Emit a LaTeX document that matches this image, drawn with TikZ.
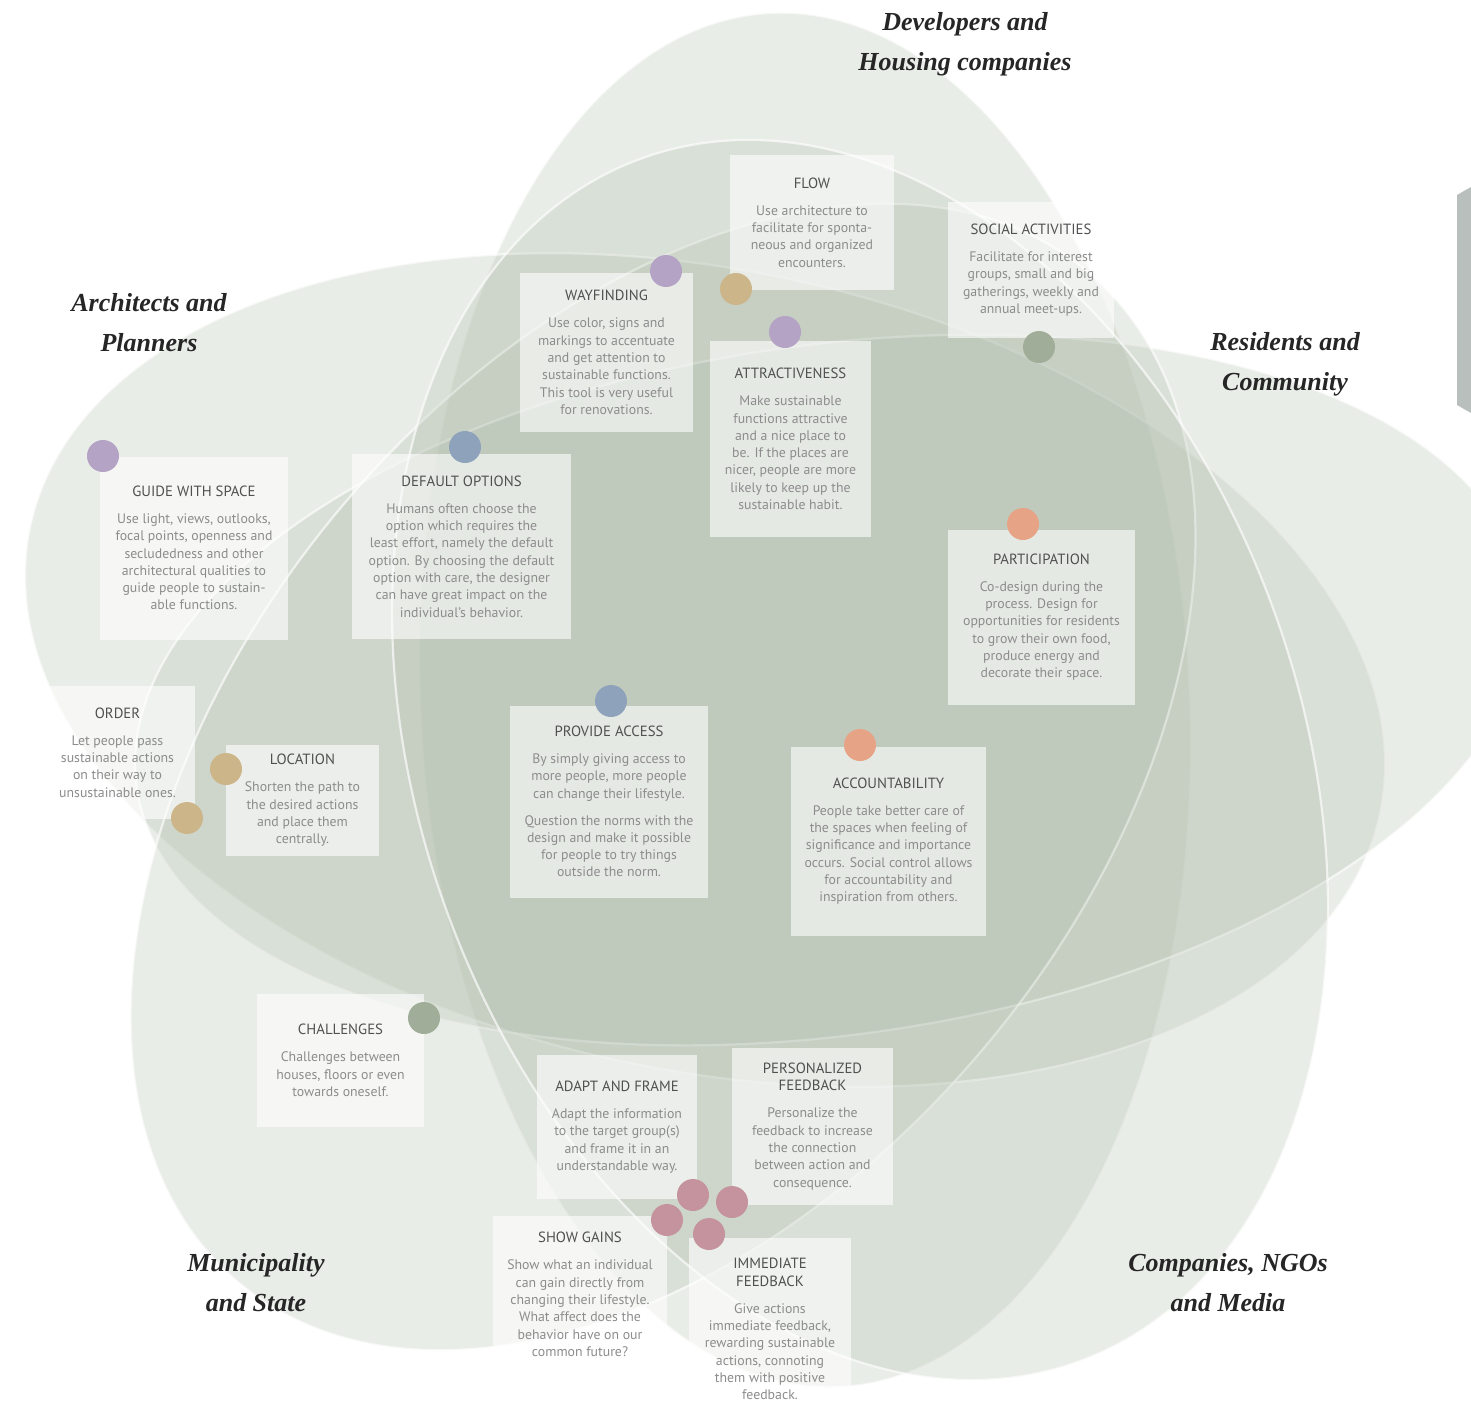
\documentclass[tikz,border=0pt]{standalone}
\usepackage{fontspec}
\setmainfont{Liberation Serif}
\newfontfamily\tipfont{PT Sans}
\usetikzlibrary{positioning}

\definecolor{petalgreen}{HTML}{B3BFAE}
\definecolor{tiptitle}{HTML}{505050}
\definecolor{tiptext}{HTML}{8C8C8C}
\definecolor{dotpurple}{HTML}{B5A3C6}
\definecolor{dottan}{HTML}{CDB58A}
\definecolor{dotgreen}{HTML}{A0AD98}
\definecolor{dotblue}{HTML}{8FA2BC}
\definecolor{dotsalmon}{HTML}{E6A385}
\definecolor{dotrose}{HTML}{C4939E}
\definecolor{tabgrey}{HTML}{B9BFBC}

\newcommand\tiphead[1]{{\color{tiptitle}\fontsize{14.8}{17.3}\selectfont #1}}

\tikzset{
  petal/.style={fill=petalgreen, fill opacity=0.28, draw=white, draw opacity=0.65, line width=2.2pt},
  tipbox/.style={fill=white, fill opacity=0.6, text opacity=1, text=tiptext, align=center,
    inner sep=0pt, font=\tipfont\fontsize{13.8}{17.3}\selectfont},
  dot/.style={circle, minimum size=32pt, inner sep=0pt},
  group/.style={font=\bfseries\itshape\fontsize{26}{40}\selectfont, align=center, text=black!85}
}

\begin{document}
\begin{tikzpicture}[x=1pt,y=-1pt]
\useasboundingbox (0,0) rectangle (1471,1406);
\fill[white] (0,0) rectangle (1471,1406);

% five petals
\filldraw[petal, rotate around={92.9:(805,700)}] (805,700) ellipse [x radius=688, y radius=385];
\filldraw[petal, rotate around={168:(705,670)}] (705,670) ellipse [x radius=690, y radius=400];
\filldraw[petal, rotate around={8:(830,690)}] (830,690) ellipse [x radius=700, y radius=345];
\filldraw[petal, rotate around={-130:(663,777)}] (663,777) ellipse [x radius=660, y radius=420];
\filldraw[petal, rotate around={-70:(860,760)}] (860,760) ellipse [x radius=640, y radius=440];

% page tab
\fill[tabgrey] (1457,195) -- (1471,187) -- (1471,413) -- (1457,405) -- cycle;

% tools
\node[tipbox, minimum width=164pt, minimum height=135pt] (flow) at (812,222.5)
  {\tiphead{FLOW}\\[9.7pt]Use architecture to\\facilitate for sponta-\\neous and organized\\encounters.};
\node[tipbox, minimum width=166pt, minimum height=136pt] (social) at (1031,270)
  {\tiphead{SOCIAL ACTIVITIES}\\[9.7pt]Facilitate for interest\\groups, small and big\\gatherings, weekly and\\annual meet-ups.};
\node[tipbox, minimum width=173pt, minimum height=159pt] (wayfinding) at (606.5,352.5)
  {\tiphead{WAYFINDING}\\[9.7pt]Use color, signs and\\markings to accentuate\\and get attention to\\sustainable functions.\\This tool is very useful\\for renovations.};
\node[tipbox, minimum width=161pt, minimum height=196pt] (attract) at (790.5,439)
  {\tiphead{ATTRACTIVENESS}\\[9.7pt]Make sustainable\\functions attractive\\and a nice place to\\be. If the places are\\nicer, people are more\\likely to keep up the\\sustainable habit.};
\node[tipbox, minimum width=188pt, minimum height=183pt] (guide) at (194,548)
  {\tiphead{GUIDE WITH SPACE}\\[9.7pt]Use light, views, outlooks,\\focal points, openness and\\secludedness and other\\architectural qualities to\\guide people to sustain-\\able functions.};
\node[tipbox, minimum width=219pt, minimum height=185pt] (default) at (461.5,546.5)
  {\tiphead{DEFAULT OPTIONS}\\[9.7pt]Humans often choose the\\option which requires the\\least effort, namely the default\\option. By choosing the default\\option with care, the designer\\can have great impact on the\\individual’s behavior.};
\node[tipbox, minimum width=187pt, minimum height=175pt] (particip) at (1041.5,617)
  {\tiphead{PARTICIPATION}\\[9.7pt]Co-design during the\\process. Design for\\opportunities for residents\\to grow their own food,\\produce energy and\\decorate their space.};
\node[tipbox, minimum width=155pt, minimum height=133pt] (order) at (117.5,752.5)
  {\tiphead{ORDER}\\[9.7pt]Let people pass\\sustainable actions\\on their way to\\unsustainable ones.};
\node[tipbox, minimum width=153pt, minimum height=111pt] (location) at (302.5,800.5)
  {\tiphead{LOCATION}\\[9.7pt]Shorten the path to\\the desired actions\\and place them\\centrally.};
\node[tipbox, minimum width=198pt, minimum height=192pt] (access) at (609,801.5)
  {\tiphead{PROVIDE ACCESS}\\[9.7pt]By simply giving access to\\more people, more people\\can change their lifestyle.\\[9.7pt]Question the norms with the\\design and make it possible\\for people to try things\\outside the norm.};
\node[tipbox, minimum width=195pt, minimum height=189pt] (account) at (888.5,841)
  {\tiphead{ACCOUNTABILITY}\\[9.7pt]People take better care of\\the spaces when feeling of\\significance and importance\\occurs. Social control allows\\for accountability and\\inspiration from others.};
\node[tipbox, minimum width=167pt, minimum height=133pt] (challenge) at (340.5,1060.5)
  {\tiphead{CHALLENGES}\\[9.7pt]Challenges between\\houses, floors or even\\towards oneself.};
\node[tipbox, minimum width=160pt, minimum height=144pt] (adapt) at (617,1127)
  {\tiphead{ADAPT AND FRAME}\\[9.7pt]Adapt the information\\to the target group(s)\\and frame it in an\\understandable way.};
\node[tipbox, minimum width=161pt, minimum height=157pt] (personal) at (812.5,1126.5)
  {\tiphead{PERSONALIZED}\\\tiphead{FEEDBACK}\\[9.7pt]Personalize the\\feedback to increase\\the connection\\between action and\\consequence.};
\node[tipbox, minimum width=174pt, minimum height=157pt] (gains) at (580,1294.5)
  {\tiphead{SHOW GAINS}\\[9.7pt]Show what an individual\\can gain directly from\\changing their lifestyle.\\What affect does the\\behavior have on our\\common future?};
\node[tipbox, minimum width=162pt, minimum height=182pt] (immediate) at (770,1329)
  {\tiphead{IMMEDIATE}\\\tiphead{FEEDBACK}\\[9.7pt]Give actions\\immediate feedback,\\rewarding sustainable\\actions, connoting\\them with positive\\feedback.};

% markers
\node[dot, fill=dotpurple] (d1) at (666,271) {};
\node[dot, fill=dotpurple] (d2) at (785,332) {};
\node[dot, fill=dotpurple] (d3) at (103,456) {};
\node[dot, fill=dottan] (d4) at (736,289) {};
\node[dot, fill=dottan] (d5) at (226,769) {};
\node[dot, fill=dottan] (d6) at (187,818) {};
\node[dot, fill=dotgreen] (d7) at (1039,347) {};
\node[dot, fill=dotgreen] (d8) at (424,1018) {};
\node[dot, fill=dotblue] (d9) at (465,447) {};
\node[dot, fill=dotblue] (d10) at (611,701) {};
\node[dot, fill=dotsalmon] (d11) at (1023,524) {};
\node[dot, fill=dotsalmon] (d12) at (860,745) {};
\node[dot, fill=dotrose] (d13) at (693,1195) {};
\node[dot, fill=dotrose] (d14) at (732,1202) {};
\node[dot, fill=dotrose] (d15) at (667,1220) {};
\node[dot, fill=dotrose] (d16) at (709,1234) {};

% stakeholder groups
\node[group] (dev) at (965,44) {Developers and\\Housing companies};
\node[group] (arch) at (149,323) {Architects and\\Planners};
\node[group] (res) at (1285,364) {Residents and\\Community};
\node[group] (mun) at (256,1283) {Municipality\\and State};
\node[group] (comp) at (1228,1283) {Companies, NGOs\\and Media};
\end{tikzpicture}
\end{document}
